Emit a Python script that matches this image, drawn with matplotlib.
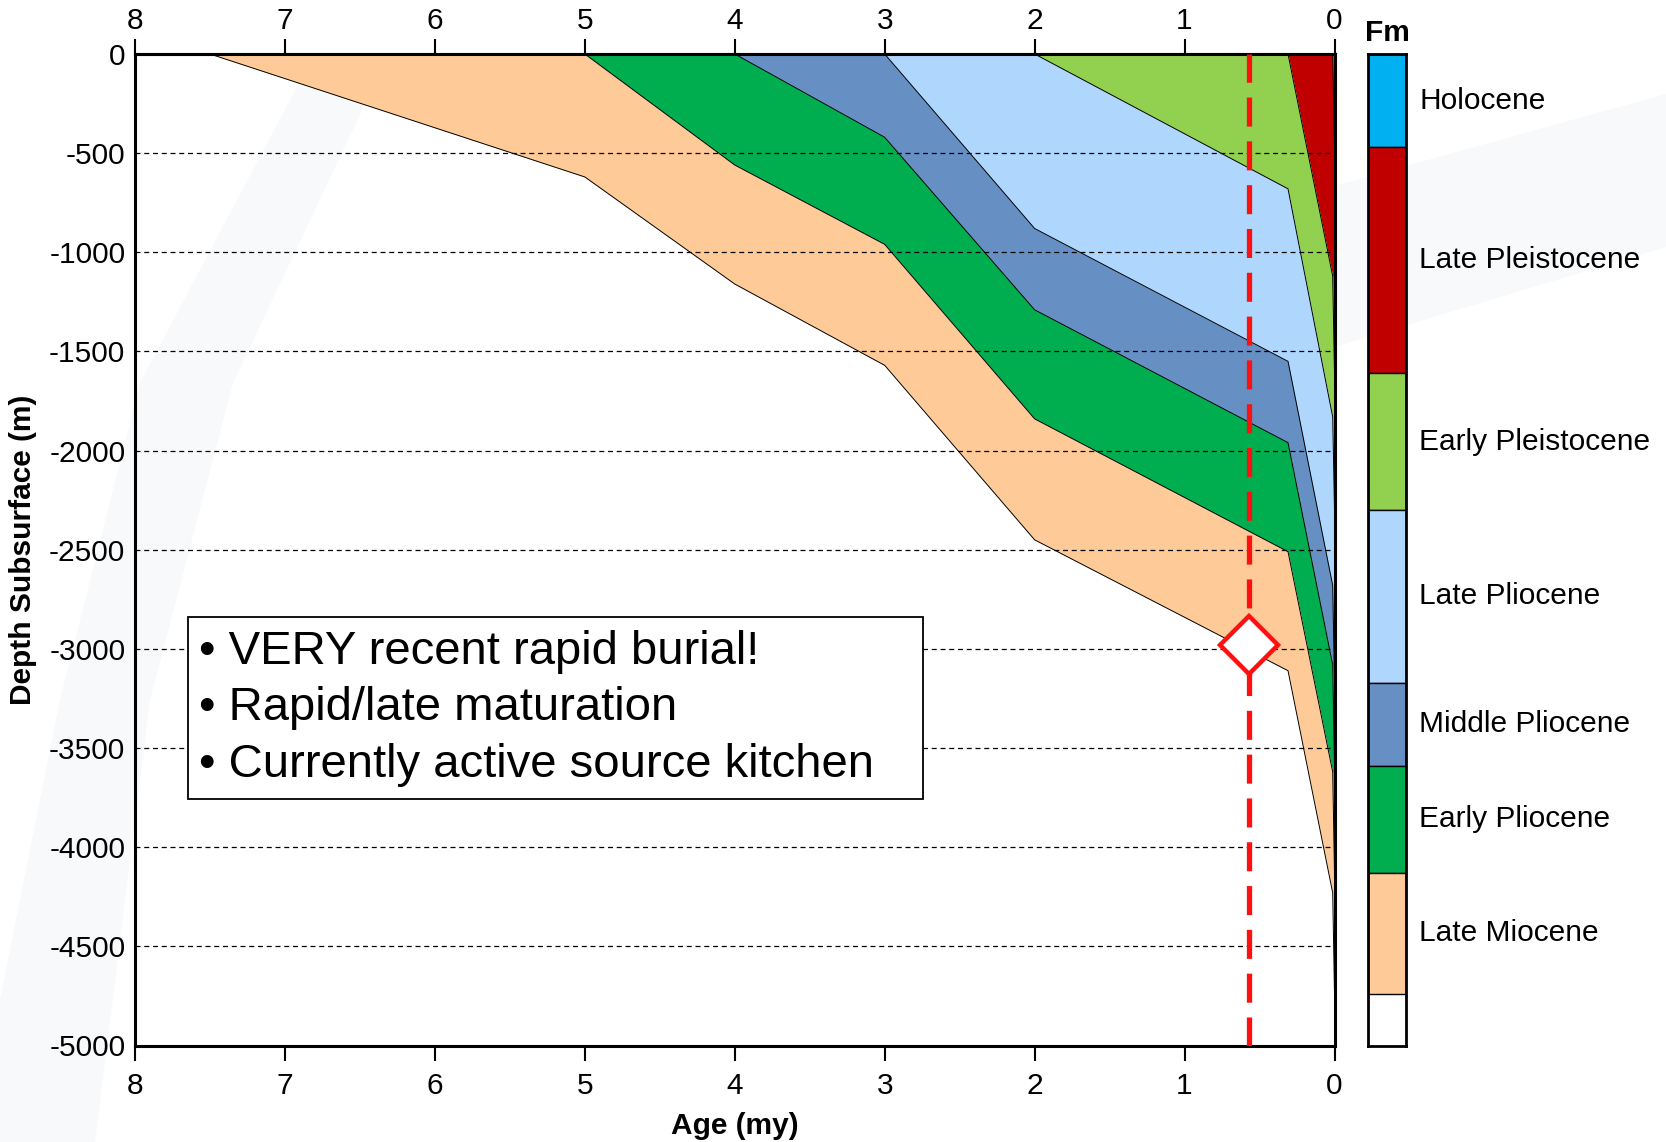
import matplotlib.pyplot as plt
import numpy as np
from matplotlib.patches import Rectangle, Polygon

plt.rcParams['font.family'] = ['Liberation Sans', 'DejaVu Sans']
plt.rcParams['axes.unicode_minus'] = False

# age grid (my) shared by every horizon
ages = [8, 7.5, 5, 4, 3, 2, 0.31, 0.012, 0]

# depth (m) of the base of each unit through time (young -> old)
base_holocene = [0, 0, 0, 0, 0, 0, 0, 0, -470]
base_late_pleist = [0, 0, 0, 0, 0, 0, 0, -1120, -1610]
base_early_pleist = [0, 0, 0, 0, 0, 0, -680, -1830, -2300]
base_late_plio = [0, 0, 0, 0, 0, -880, -1550, -2680, -3170]
base_mid_plio = [0, 0, 0, 0, -420, -1290, -1960, -3080, -3590]
base_early_plio = [0, 0, 0, -560, -960, -1840, -2510, -3620, -4130]
base_late_mio = [0, 0, -620, -1160, -1570, -2450, -3110, -4230, -4740]

units = ['Holocene', 'Late Pleistocene', 'Early Pleistocene', 'Late Pliocene',
         'Middle Pliocene', 'Early Pliocene', 'Late Miocene']
bases = [base_holocene, base_late_pleist, base_early_pleist, base_late_plio,
         base_mid_plio, base_early_plio, base_late_mio]
colors = ['#00B0F0', '#C00000', '#92D050', '#AFD6FD', '#6690C4', '#00AD4F', '#FECB98']

kitchen_age = 0.57
kitchen_depth = -2980

notes = ['VERY recent rapid burial!', 'Rapid/late maturation', 'Currently active source kitchen']

FS = 21.5
W, H = 1666, 1142

fig = plt.figure(figsize=(W/100, H/100), dpi=100)

# faint background watermark
def px(pts):
    return [(x/W, 1-y/H) for x, y in pts]
for shape in ([(298, 85), (374, 85), (233, 383), (150, 700), (95, 1142), (0, 1142),
               (0, 1000), (60, 700), (140, 383)],
              [(1334, 186), (W, 94), (W, 247), (1334, 347)]):
    fig.add_artist(Polygon(px(shape), closed=True, transform=fig.transFigure,
                           facecolor='#F8F9FB', edgecolor='none', zorder=-1))

ax = fig.add_axes([135/W, 1-1045.5/H, 1199.5/W, 991.5/H])
ax.patch.set_alpha(0)

top = np.zeros(len(ages))
for base, c in zip(bases, colors):
    ax.fill_between(ages, top, base, color=c, lw=0, zorder=1)
    top = np.array(base)
for base in bases:
    ax.plot(ages, base, color='black', lw=0.7, zorder=2)

ax.set_xlim(8, 0)
ax.set_ylim(-5000, 0)
ax.set_xticks(range(0, 9))
ax.set_yticks(range(-5000, 1, 500))
ax.tick_params(axis='x', direction='out', length=11, width=1.5, labelsize=FS, pad=8)
ax.tick_params(axis='y', length=0, labelsize=FS, pad=7)
for s in ax.spines.values():
    s.set_linewidth(2.2)
ax.grid(axis='y', color='black', lw=0.9, linestyle=(0, (4, 3)))
ax.set_axisbelow(False)

secax = ax.secondary_xaxis('top')
secax.set_xticks(range(0, 9))
secax.tick_params(direction='out', length=11, width=1.5, labelsize=FS, pad=3)
secax.spines['top'].set_linewidth(2.2)

ax.text(0.5, -0.081, 'Age (my)', transform=ax.transAxes, ha='center', va='center',
        fontsize=FS, fontweight='bold')
ax.text(-0.0934, 0.5, 'Depth Subsurface (m)', transform=ax.transAxes, rotation=90,
        ha='center', va='center', fontsize=FS, fontweight='bold')

# source kitchen marker
ax.axvline(kitchen_age, color='#FF1010', lw=3.8, linestyle=(0, (5.5, 2.8)), zorder=5)
ax.plot([kitchen_age], [kitchen_depth], marker='D', markersize=30, markerfacecolor='white',
        markeredgecolor='#FF1010', markeredgewidth=3.2, zorder=6, clip_on=False)

# note box
ax.add_patch(Rectangle((0.0442, 0.2486), 0.6128, 0.1834, transform=ax.transAxes,
                       facecolor='white', edgecolor='black', lw=1.3, zorder=4))
ax.text(0.053, 0.340, '\n'.join('\u2022 ' + n for n in notes), transform=ax.transAxes,
        ha='left', va='center', fontsize=34, linespacing=1.37, zorder=5)

# stratigraphic column legend (present-day depths)
cax = fig.add_axes([1368/W, 1-1045.5/H, 38/W, 991.5/H])
present_top = 0
for name, base, c in zip(units, bases, colors):
    cax.bar(0, base[-1] - present_top, bottom=present_top, width=1, color=c,
            edgecolor='black', lw=1)
    cax.text(1.355, (present_top + base[-1]) / 2, name,
             transform=cax.get_yaxis_transform(), ha='left', va='center', fontsize=FS,
             clip_on=False)
    present_top = base[-1]
cax.set_xlim(-0.5, 0.5)
cax.set_ylim(-5000, 0)
cax.set_xticks([])
cax.set_yticks([])
for s in cax.spines.values():
    s.set_linewidth(2)
cax.text(0.5, 1.007, 'Fm', transform=cax.transAxes, ha='center', va='bottom',
         fontsize=FS, fontweight='bold')

fig.savefig('out.png', dpi=100)
